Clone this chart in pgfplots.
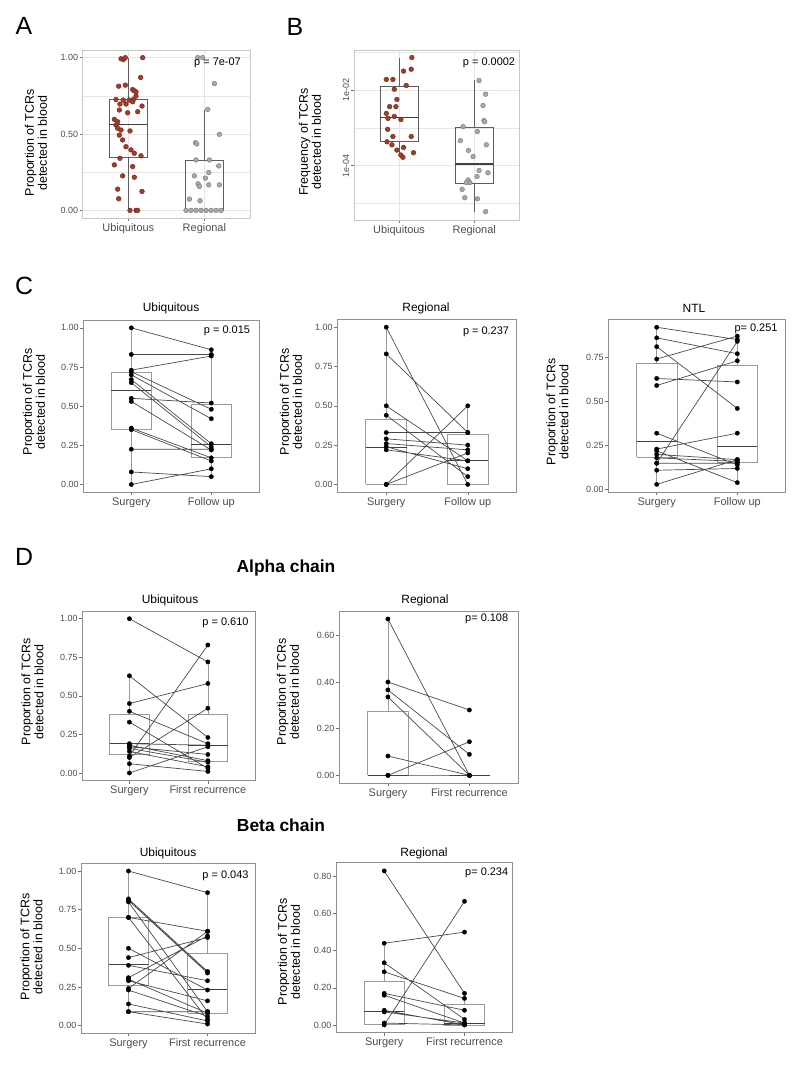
\documentclass[border=0pt]{standalone}
\usepackage{pgfplots}
\pgfplotsset{compat=1.18}
\usepackage{fontspec}
\setmainfont{Liberation Sans}

\definecolor{redpt}{HTML}{A23B2A}
\definecolor{redln}{HTML}{6E2A20}
\definecolor{greypt}{HTML}{A8A8A8}
\definecolor{greyln}{HTML}{7A7A7A}
\definecolor{frameA}{HTML}{C8C8C8}
\definecolor{gridA}{HTML}{E6E6E6}
\definecolor{frameC}{HTML}{8F8F8F}
\definecolor{boxC}{HTML}{9A9A9A}
\definecolor{boxA}{HTML}{5E5E5E}
\definecolor{lineC}{HTML}{4A4A4A}
\definecolor{tickT}{HTML}{4D4D4D}

\newcommand{\fs}[1]{\fontsize{#1}{#1}\selectfont}
% box: [colour]{left}{centre}{right}{lower whisker}{lower quartile}{median}{upper quartile}{upper whisker}
\newcommand{\bx}[9][boxC]{%
  \addplot[draw=#1, line width=0.7pt, unbounded coords=jump, forget plot]
    coordinates {(#3,#5)(#3,#6) (#3,nan) (#3,#8)(#3,#9)};
  \addplot[draw=#1, line width=0.7pt, line join=miter, forget plot]
    coordinates {(#2,#6)(#4,#6)(#4,#8)(#2,#8)(#2,#6)};
  \addplot[draw=black!75, line width=1.3pt, forget plot]
    coordinates {(#2,#7)(#4,#7)};}

\pgfplotsset{
  base/.style={scale only axis, anchor=south west, xmin=0.4, xmax=2.6, xtick={1,2},
    tick pos=left, tick align=outside, major tick length=3bp, minor tick length=0pt,
    tick style={color=black!55, line width=0.5pt},
    yticklabel style={font=\fs{9}, text=tickT, inner sep=1.5pt},
    xticklabel style={font=\fs{11}, text=tickT, inner sep=2pt},
    /pgf/number format/assume math mode=true, clip=false},
  light/.style={base, axis line style={frameA, line width=0.7pt},
    xmajorgrids, ymajorgrids, yminorgrids,
    major grid style={gridA, line width=0.6pt}, minor grid style={gridA, line width=0.4pt}},
  dark/.style={base, axis line style={frameC, line width=0.8pt}},
  pr/.style={lineC, line width=0.7pt, mark=*, mark size=2.2pt,
    mark options={fill=black, draw=black, line width=0.3pt}, unbounded coords=jump},
  redm/.style={only marks, mark=*, mark size=2.4pt, mark options={fill=redpt, draw=redln, line width=0.4pt}},
  greym/.style={only marks, mark=*, mark size=2.4pt, mark options={fill=greypt, draw=greyln, line width=0.4pt}},
}

\begin{document}
\begin{tikzpicture}
\useasboundingbox (0,0) rectangle (800bp,-1065bp);

% ---------------- A
\begin{axis}[light, at={(82.7bp,-218bp)}, width=167.3bp, height=168bp,
  ymin=-0.05, ymax=1.05, ytick={0,0.5,1}, yticklabels={0.00,0.50,1.00}, minor ytick={0.25,0.75},
  xticklabels={Ubiquitous,Regional}]
\bx[boxA]{0.75}{1}{1.25}{0}{0.35}{0.56}{0.725}{1.0}
\bx[boxA]{1.75}{2}{2.25}{0}{0}{0}{0.33}{0.66}
\addplot[redm] coordinates {(0.904,0.993)(0.934,0.987)(0.961,1.000)(1.189,1.000)(1.162,0.870)(0.873,0.813)(0.961,0.820)(1.057,0.791)(1.079,0.783)(1.101,0.776)(0.838,0.726)(0.934,0.722)(1.013,0.722)(1.066,0.726)(0.890,0.696)(0.969,0.696)(1.057,0.711)(1.180,0.683)(1.101,0.748)(0.882,0.657)(0.991,0.639)(1.123,0.646)(0.816,0.596)(0.860,0.580)(0.838,0.559)(0.860,0.537)(0.904,0.526)(1.022,0.520)(0.882,0.493)(0.925,0.461)(0.969,0.417)(1.035,0.396)(1.079,0.374)(1.167,0.357)(0.890,0.341)(0.816,0.298)(1.057,0.287)(0.925,0.226)(1.079,0.217)(0.860,0.139)(1.180,0.124)(0.873,0.076)(1.022,0.000)(1.101,0.000)(1.123,0.000)};
\addplot[greym] coordinates {(1.759,0)(1.825,0)(1.890,0)(1.956,0)(2.022,0)(2.088,0)(2.154,0)(2.219,0)(1.803,0.074)(1.943,0.063)(1.882,0.443)(1.899,0.435)(1.890,0.330)(2.066,0.330)(2.189,0.291)(1.868,0.226)(2.013,0.211)(2.057,0.248)(1.917,0.174)(2.057,0.167)(2.197,0.167)(1.934,0.157)(2.197,0.498)(2.132,0.830)(2.044,0.661)(1.912,1.0)(1.978,1.0)};
\end{axis}

% ---------------- B (log10 of frequency)
\begin{axis}[light, at={(354bp,-220bp)}, width=165.3bp, height=169.3bp,
  ymin=-5.44, ymax=-0.96, ytick={-4,-2}, yticklabels={1e-04,1e-02}, minor ytick={-5,-3,-1},
  yticklabel style={rotate=90, anchor=south},
  xticklabels={Ubiquitous,Regional}]
\bx[boxA]{0.75}{1}{1.25}{-3.78}{-3.37}{-2.72}{-1.91}{-1.14}
\bx[boxA]{1.75}{2}{2.25}{-5.22}{-4.47}{-3.96}{-2.99}{-1.74}
\addplot[redm] coordinates {(1.170,-1.14)(1.059,-1.50)(1.161,-1.45)(0.830,-1.72)(0.918,-1.72)(0.936,-1.98)(1.095,-1.88)(0.971,-2.25)(0.874,-2.44)(0.958,-2.44)(0.830,-2.62)(0.852,-2.75)(0.936,-2.70)(1.024,-2.78)(0.848,-3.04)(0.918,-3.23)(1.161,-3.23)(0.839,-3.37)(0.905,-3.45)(1.059,-3.52)(0.971,-3.59)(1.192,-3.66)(1.024,-3.72)(1.051,-3.78)};
\addplot[greym] coordinates {(2.064,-1.75)(2.152,-2.11)(2.117,-2.41)(2.130,-2.81)(2.139,-2.84)(1.852,-2.97)(2.042,-3.10)(1.817,-3.34)(2.161,-3.45)(1.923,-3.60)(1.985,-3.76)(2.064,-4.13)(2.183,-4.19)(2.037,-4.29)(1.919,-4.38)(1.941,-4.45)(1.896,-4.45)(1.839,-4.63)(1.874,-4.85)(2.042,-4.88)(2.152,-5.22)};
\end{axis}

% ---------------- C Ubiquitous
\begin{axis}[dark, at={(83.3bp,-492.3bp)}, width=176bp, height=172.3bp,
  ymin=-0.05, ymax=1.05, ytick={0,0.25,0.5,0.75,1}, yticklabels={0.00,0.25,0.50,0.75,1.00},
  xticklabels={Surgery,Follow up}]
\bx{0.75}{1}{1.25}{0}{0.353}{0.598}{0.715}{1.0}
\bx{1.75}{2}{2.25}{0.05}{0.172}{0.255}{0.513}{0.86}
\addplot[pr] coordinates {(1,1.00)(2,0.86) (1,nan) (1,0.83)(2,0.83) (1,nan) (1,0.73)(2,0.82) (1,nan) (1,0.72)(2,0.48) (1,nan) (1,0.70)(2,0.42) (1,nan) (1,0.67)(2,0.26) (1,nan) (1,0.65)(2,0.24) (1,nan) (1,0.55)(2,0.52) (1,nan) (1,0.53)(2,0.22) (1,nan) (1,0.36)(2,0.17) (1,nan) (1,0.35)(2,0.15) (1,nan) (1,0.225)(2,0.225) (1,nan) (1,0.08)(2,0.05) (1,nan) (1,0.00)(2,0.10)};
\end{axis}

% ---------------- C Regional
\begin{axis}[dark, at={(337.3bp,-492.3bp)}, width=179.4bp, height=173bp,
  ymin=-0.05, ymax=1.05, ytick={0,0.25,0.5,0.75,1}, yticklabels={0.00,0.25,0.50,0.75,1.00},
  xticklabels={Surgery,Follow up}]
\bx{0.75}{1}{1.25}{0}{0}{0.236}{0.417}{1.0}
\bx{1.75}{2}{2.25}{0}{0}{0.154}{0.316}{0.50}
\addplot[pr] coordinates {(1,1.00)(2,0.00) (1,nan) (1,0.83)(2,0.33) (1,nan) (1,0.50)(2,0.15) (1,nan) (1,0.44)(2,0.05) (1,nan) (1,0.33)(2,0.33) (1,nan) (1,0.29)(2,0.25) (1,nan) (1,0.26)(2,0.22) (1,nan) (1,0.24)(2,0.10) (1,nan) (1,0.22)(2,0.15) (1,nan) (1,0.00)(2,0.50) (1,nan) (1,0.00)(2,0.20)};
\end{axis}

% ---------------- C NTL
\begin{axis}[dark, at={(608.3bp,-492.3bp)}, width=177.4bp, height=173bp,
  ymin=-0.015, ymax=0.965, ytick={0,0.25,0.5,0.75}, yticklabels={0.00,0.25,0.50,0.75},
  xticklabels={Surgery,Follow up}]
\bx{0.75}{1}{1.25}{0.03}{0.184}{0.273}{0.714}{0.92}
\bx{1.75}{2}{2.25}{0.04}{0.154}{0.244}{0.705}{0.87}
\addplot[pr] coordinates {(1,0.92)(2,0.85) (1,nan) (1,0.86)(2,0.77) (1,nan) (1,0.81)(2,0.46) (1,nan) (1,0.74)(2,0.87) (1,nan) (1,0.63)(2,0.61) (1,nan) (1,0.59)(2,0.73) (1,nan) (1,0.32)(2,0.14) (1,nan) (1,0.23)(2,0.32) (1,nan) (1,0.22)(2,0.04) (1,nan) (1,0.20)(2,0.17) (1,nan) (1,0.18)(2,0.16) (1,nan) (1,0.15)(2,0.15) (1,nan) (1,0.11)(2,0.12) (1,nan) (1,0.03)(2,0.17) (1,nan) (1,0.15)(2,0.84)};
\end{axis}

% ---------------- D alpha Ubiquitous
\begin{axis}[dark, at={(82.3bp,-780.7bp)}, width=172.7bp, height=169.7bp,
  ymin=-0.05, ymax=1.05, ytick={0,0.25,0.5,0.75,1}, yticklabels={0.00,0.25,0.50,0.75,1.00},
  xticklabels={Surgery,First recurrence}]
\bx{0.75}{1}{1.25}{0}{0.119}{0.192}{0.381}{0.636}
\bx{1.75}{2}{2.25}{0}{0.075}{0.177}{0.377}{0.72}
\addplot[pr] coordinates {(1,1.00)(2,0.72) (1,nan) (1,0.63)(2,0.23) (1,nan) (1,0.45)(2,0.58) (1,nan) (1,0.40)(2,0.19) (1,nan) (1,0.33)(2,0.03) (1,nan) (1,0.19)(2,0.18) (1,nan) (1,0.18)(2,0.08) (1,nan) (1,0.17)(2,0.12) (1,nan) (1,0.16)(2,0.07) (1,nan) (1,0.14)(2,0.04) (1,nan) (1,0.11)(2,0.83) (1,nan) (1,0.10)(2,0.42) (1,nan) (1,0.06)(2,0.01) (1,nan) (1,0.00)(2,0.17)};
\end{axis}

% ---------------- D alpha Regional
\begin{axis}[dark, at={(339bp,-783.3bp)}, width=179.3bp, height=172.3bp,
  ymin=-0.034, ymax=0.704, ytick={0,0.2,0.4,0.6}, yticklabels={0.00,0.20,0.40,0.60},
  xticklabels={Surgery,First recurrence}]
\bx{0.75}{1}{1.25}{0}{0}{0}{0.273}{0.67}
\bx{1.75}{2}{2.25}{0}{0}{0}{0}{0}
\addplot[pr] coordinates {(1,0.67)(2,0.00) (1,nan) (1,0.40)(2,0.28) (1,nan) (1,0.366)(2,0.09) (1,nan) (1,0.336)(2,0.00) (1,nan) (1,0.083)(2,0.00) (1,nan) (1,0.00)(2,0.144) (1,nan) (1,0.00)(2,0.00)};
\end{axis}

% ---------------- D beta Ubiquitous
\begin{axis}[dark, at={(81bp,-1033.3bp)}, width=174bp, height=170bp,
  ymin=-0.05, ymax=1.05, ytick={0,0.25,0.5,0.75,1}, yticklabels={0.00,0.25,0.50,0.75,1.00},
  xticklabels={Surgery,First recurrence}]
\bx{0.75}{1}{1.25}{0.088}{0.258}{0.394}{0.699}{1.0}
\bx{1.75}{2}{2.25}{0.01}{0.082}{0.232}{0.465}{0.86}
\addplot[pr] coordinates {(1,1.00)(2,0.86) (1,nan) (1,0.82)(2,0.35) (1,nan) (1,0.81)(2,0.34) (1,nan) (1,0.80)(2,0.09) (1,nan) (1,0.70)(2,0.61) (1,nan) (1,0.70)(2,0.04) (1,nan) (1,0.50)(2,0.23) (1,nan) (1,0.44)(2,0.57) (1,nan) (1,0.39)(2,0.29) (1,nan) (1,0.31)(2,0.58) (1,nan) (1,0.30)(2,0.08) (1,nan) (1,0.29)(2,0.16) (1,nan) (1,0.24)(2,0.61) (1,nan) (1,0.23)(2,0.06) (1,nan) (1,0.14)(2,0.03) (1,nan) (1,0.09)(2,0.09) (1,nan) (1,0.09)(2,0.01)};
\end{axis}

% ---------------- D beta Regional
\begin{axis}[dark, at={(336bp,-1032.7bp)}, width=176.7bp, height=170bp,
  ymin=-0.042, ymax=0.874, ytick={0,0.2,0.4,0.6,0.8}, yticklabels={0.00,0.20,0.40,0.60,0.80},
  xticklabels={Surgery,First recurrence}]
\bx{0.75}{1}{1.25}{0}{0.004}{0.072}{0.233}{0.44}
\bx{1.75}{2}{2.25}{0}{0}{0.007}{0.111}{0.17}
\addplot[pr] coordinates {(1,0.83)(2,0.17) (1,nan) (1,0.44)(2,0.50) (1,nan) (1,0.335)(2,0.03) (1,nan) (1,0.286)(2,0.143) (1,nan) (1,0.17)(2,0.079) (1,nan) (1,0.16)(2,0.01) (1,nan) (1,0.079)(2,0.00) (1,nan) (1,0.07)(2,0.01) (1,nan) (1,0.00)(2,0.666) (1,nan) (1,0.01)(2,0.00)};
\end{axis}

% ---------------- text
\begin{scope}[every node/.style={inner sep=0pt}]
\node[font=\fs{25}] at (24bp,-26bp) {A};
\node[font=\fs{25}] at (295bp,-27bp) {B};
\node[font=\fs{25}] at (24bp,-286bp) {C};
\node[font=\fs{25}] at (24bp,-557bp) {D};
\node[font=\bfseries\fs{17.5}] at (286bp,-568bp) {Alpha chain};
\node[font=\bfseries\fs{17.5}] at (281bp,-825bp) {Beta chain};

\foreach \x/\y/\t in {171/308/Ubiquitous, 426/308/Regional, 694/308/NTL,
  170/600/Ubiquitous, 425/600/Regional, 168/853/Ubiquitous, 424/853/Regional}
  \node[font=\fs{12}] at (\x bp,-\y bp) {\t};

\foreach \x/\y in {36/143, 34/402, 291/402, 557.5/412, 32.5/692, 288/692, 31.5/947, 289/952}
  \node[font=\fontsize{12.5}{13}\selectfont, rotate=90, align=center] at (\x bp,-\y bp) {Proportion of TCRs\\detected in blood};
\node[font=\fontsize{12.5}{13}\selectfont, rotate=90, align=center] at (310bp,-142bp) {Frequency of TCRs\\detected in blood};

\node[font=\fs{11}] at (217.5bp,-63bp) {p = 7e-07};
\node[font=\fs{11}] at (489bp,-63bp) {p = 0.0002};
\node[font=\fs{11}] at (227bp,-331bp) {p = 0.015};
\node[font=\fs{11}] at (486bp,-332bp) {p = 0.237};
\node[font=\fs{11}] at (756bp,-329bp) {p= 0.251};
\node[font=\fs{11}] at (225.5bp,-623bp) {p = 0.610};
\node[font=\fs{11}] at (486.7bp,-619bp) {p= 0.108};
\node[font=\fs{11}] at (225.5bp,-876bp) {p = 0.043};
\node[font=\fs{11}] at (486.7bp,-873bp) {p= 0.234};
\end{scope}
\end{tikzpicture}
\end{document}
